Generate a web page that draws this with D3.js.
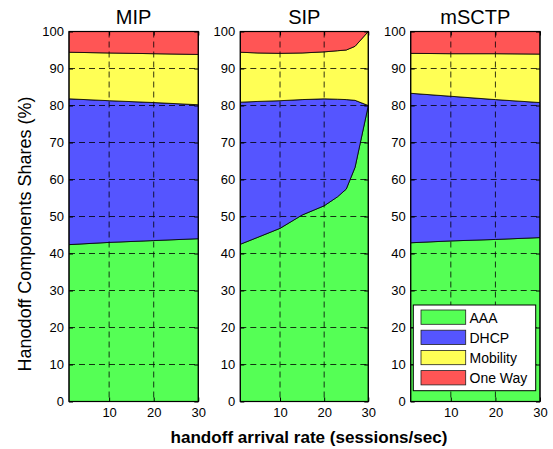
<!DOCTYPE html>
<html><head><meta charset="utf-8">
<script src="https://cdn.jsdelivr.net/npm/d3@7"></script>
<style>body{margin:0;background:#fff}svg{display:block}text{font-family:"Liberation Sans",Arial,Helvetica,sans-serif}</style>
</head><body>
<script>
// ---- data ----
const components = ["AAA", "DHCP", "Mobility", "One Way"];
const colors = ["#55ff55", "#5555ff", "#ffff55", "#ff5555"];
const panelTitles = ["MIP", "SIP", "mSCTP"];
const xTicks = [10, 20, 30];
const yTicks = [0, 10, 20, 30, 40, 50, 60, 70, 80, 90, 100];

const mipRate = [1, 10, 20, 30];
const mipAAA = [42.4, 43.0, 43.5, 44.0];
const mipDHCP = [39.4, 38.3, 37.3, 36.2];
const mipMobility = [12.6, 12.9, 13.2, 13.6];
const mipOneWay = [5.6, 5.8, 6.0, 6.2];

const sipRate = [1, 5, 10, 15, 20, 23, 25, 27, 30];
const sipAAA = [42.5, 44.4, 46.8, 50.4, 52.9, 55.3, 57.4, 63.3, 80.0];
const sipDHCP = [38.4, 36.7, 34.5, 31.2, 28.9, 26.4, 24.2, 18.1, 0.0];
const sipMobility = [13.5, 13.1, 12.8, 12.6, 12.7, 13.1, 13.4, 14.6, 20.0];
const sipOneWay = [5.6, 5.8, 5.9, 5.8, 5.5, 5.2, 5.0, 4.0, 0.0];

const msctpRate = [1, 10, 20, 30];
const msctpAAA = [42.9, 43.4, 43.8, 44.3];
const msctpDHCP = [40.4, 39.1, 37.8, 36.5];
const msctpMobility = [10.8, 11.5, 12.4, 13.1];
const msctpOneWay = [5.9, 6.0, 6.0, 6.1];

const panelData = [
  {rate: mipRate, series: [mipAAA, mipDHCP, mipMobility, mipOneWay]},
  {rate: sipRate, series: [sipAAA, sipDHCP, sipMobility, sipOneWay]},
  {rate: msctpRate, series: [msctpAAA, msctpDHCP, msctpMobility, msctpOneWay]}
];

// ---- layout ----
const W = 553, H = 449;
const panelX = [[69, 198.3], [240.3, 368.3], [410.7, 540]];
const yTop = 31.5, yBot = 401.5;

const svg = d3.select("body").append("svg").attr("width", W).attr("height", H);
const y = d3.scaleLinear().domain([0, 100]).range([yBot, yTop]);

panelData.forEach((pd, pi) => {
  const x = d3.scaleLinear().domain([1, 30]).range(panelX[pi]);
  const g = svg.append("g");
  const rows = pd.rate.map((r, i) => {
    const o = {rate: r};
    components.forEach((c, ci) => o[c] = pd.series[ci][i]);
    return o;
  });
  const stacked = d3.stack().keys(components)(rows);
  const area = d3.area().x(d => x(d.data.rate)).y0(d => y(d[0])).y1(d => y(d[1]));
  g.selectAll("path.area").data(stacked).join("path")
    .attr("class", "area")
    .attr("d", area)
    .attr("fill", (d, i) => colors[i])
    .attr("stroke", "#000").attr("stroke-width", 0.8).attr("stroke-linejoin", "round");

  // grid
  const grid = g.append("g").attr("stroke", "#000").attr("stroke-width", 0.8).attr("stroke-dasharray", "6,4");
  yTicks.filter(t => t > 0 && t < 100).forEach(t => {
    grid.append("line").attr("x1", panelX[pi][0]).attr("x2", panelX[pi][1]).attr("y1", y(t)).attr("y2", y(t));
  });
  xTicks.filter(t => t < 30).forEach(t => {
    grid.append("line").attr("x1", x(t)).attr("x2", x(t)).attr("y1", yTop).attr("y2", yBot);
  });

  // axes
  const yAxis = d3.axisLeft(y).tickValues(yTicks).tickSizeInner(-4).tickSizeOuter(0).tickPadding(5);
  const ya = g.append("g").attr("transform", `translate(${panelX[pi][0]},0)`).call(yAxis);
  const yaR = g.append("g").attr("transform", `translate(${panelX[pi][1]},0)`)
    .call(d3.axisRight(y).tickValues(yTicks).tickSizeInner(-4).tickSizeOuter(0).tickFormat(""));
  const xAxis = d3.axisBottom(x).tickValues(xTicks).tickSizeInner(-4).tickSizeOuter(0).tickPadding(6);
  const xa = g.append("g").attr("transform", `translate(0,${yBot})`).call(xAxis);
  const xaT = g.append("g").attr("transform", `translate(0,${yTop})`)
    .call(d3.axisTop(x).tickValues(xTicks).tickSizeInner(-4).tickSizeOuter(0).tickFormat(""));
  [ya, yaR, xa, xaT].forEach(a => {
    a.select(".domain").remove();
    a.selectAll("line").attr("stroke", "#000");
    a.selectAll("text").attr("fill", "#000").style("font-size", "13px").style("font-family", '"Liberation Sans",Arial,sans-serif');
  });
  g.append("rect").attr("x", panelX[pi][0]).attr("y", yTop)
    .attr("width", panelX[pi][1] - panelX[pi][0]).attr("height", yBot - yTop)
    .attr("fill", "none").attr("stroke", "#000").attr("stroke-width", 1.2);

  svg.append("text").attr("x", (panelX[pi][0] + panelX[pi][1]) / 2).attr("y", 24)
    .attr("text-anchor", "middle").style("font-size", "20px").text(panelTitles[pi]);
});

// axis labels
svg.append("text").attr("transform", `translate(31,234) rotate(-90)`)
  .attr("text-anchor", "middle").style("font-size", "18px").text("Hanodoff Components Shares (%)");
svg.append("text").attr("x", 309).attr("y", 443).attr("text-anchor", "middle")
  .attr("textLength", 277).attr("lengthAdjust", "spacingAndGlyphs")
  .style("font-size", "17px").style("font-weight", "bold").text("handoff arrival rate (sessions/sec)");

// legend
const lg = svg.append("g");
lg.append("rect").attr("x", 413.3).attr("y", 305).attr("width", 122.4).attr("height", 85.7)
  .attr("fill", "#fff").attr("stroke", "#000").attr("stroke-width", 1);
components.forEach((c, i) => {
  lg.append("rect").attr("x", 421).attr("y", 310 + i * 20.2).attr("width", 44.7).attr("height", 14.3)
    .attr("fill", colors[i]).attr("stroke", "#222").attr("stroke-width", 0.8);
  lg.append("text").attr("x", 469.5).attr("y", 322.5 + i * 20.2).style("font-size", "14px").text(c);
});
</script>
</body></html>
